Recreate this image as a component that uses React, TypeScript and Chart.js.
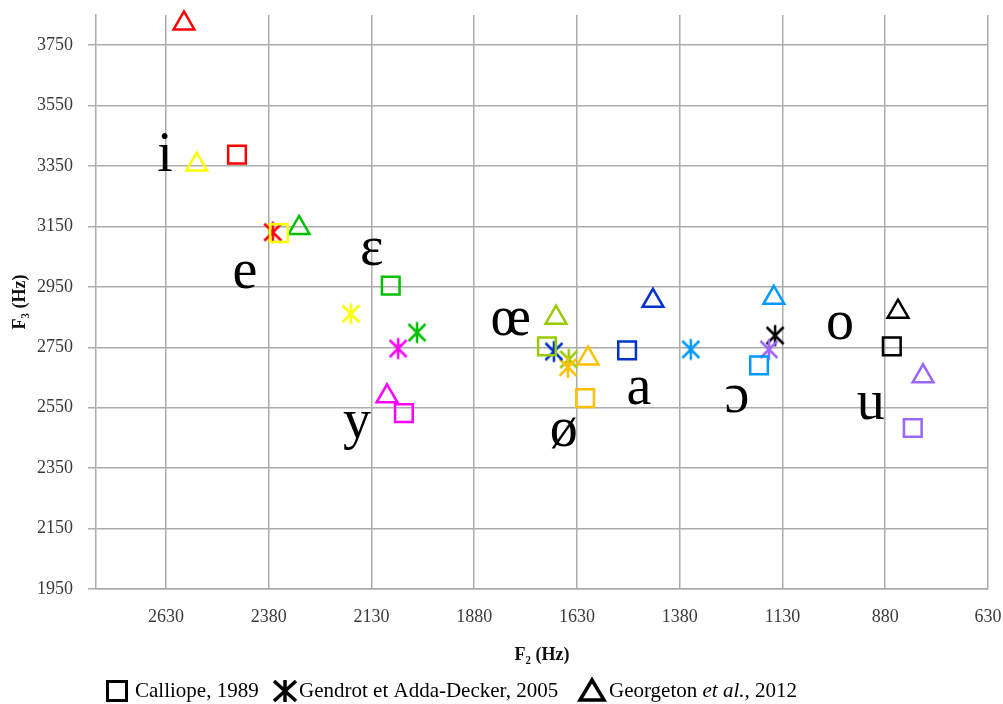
import React, { useEffect, useRef } from 'react';
import { Chart, registerables } from 'chart.js';

Chart.register(...registerables);

// ---- Data ----
const vowels = ['i', 'e', 'ɛ', 'y', 'œ', 'ø', 'a', 'ɔ', 'o', 'u'];
const vowelColors = ['#ff0000', '#ffff00', '#00c000', '#ff00ff', '#99cc00', '#ffc000', '#0033cc', '#0099ff', '#000000', '#9966ff'];

// Calliope, 1989 (squares)
const calliopeF2 = [2457, 2355, 2083, 2051, 1703, 1610, 1508, 1187, 864, 813];
const calliopeF3 = [3388, 3128, 2954, 2532, 2753, 2582, 2740, 2690, 2753, 2483];

// Gendrot et Adda-Decker, 2005 (asterisks)
const gendrotF2 = [2370, 2180, 2019, 2065, 1650, 1652, 1686, 1353, 1148, 1163];
const gendrotF3 = [3131, 2861, 2799, 2746, 2710, 2684, 2736, 2743, 2789, 2743];

// Georgeton et al., 2012 (triangles)
const georgetonF2 = [2586, 2555, 2306, 2092, 1681, 1603, 1445, 1151, 849, 788];
const georgetonF3 = [3822, 3355, 3145, 2588, 2848, 2713, 2904, 2914, 2868, 2654];

// Vowel symbol anchors (baseline centre)
const labelF2 = [2632, 2438, 2129, 2165, 1791, 1662, 1479, 1241, 990, 915];
const labelF3 = [3335, 2947, 3023, 2450, 2792, 2424, 2562, 2536, 2779, 2513];

const xTicks = [630, 880, 1130, 1380, 1630, 1880, 2130, 2380, 2630];
const yTicks = [1950, 2150, 2350, 2550, 2750, 2950, 3150, 3350, 3550, 3750];
const xMin = 630;
const xMax = 2800;
const yMin = 1950;
const yMax = 3850;

const xTitle = 'F₂ (Hz)';
const yTitle = 'F₃ (Hz)';

const legendStyles = ['square', 'asterisk', 'triangle'];
const legendParts = [
  [{ t: 'Calliope, 1989', it: false }],
  [{ t: 'Gendrot et Adda-Decker, 2005', it: false }],
  [{ t: 'Georgeton ', it: false }, { t: 'et al.,', it: true }, { t: ' 2012', it: false }],
];

const SERIF = '"Liberation Serif", "Times New Roman", serif';

function makeAsterisk(color: string, lw: number, hw: number, hh: number, vh: number) {
  const size = 30;
  const c = document.createElement('canvas');
  c.width = size;
  c.height = size;
  const g = c.getContext('2d')!;
  const m = size / 2;
  g.strokeStyle = color;
  g.lineWidth = lw;
  g.lineCap = 'butt';
  g.beginPath();
  g.moveTo(m, m - vh);
  g.lineTo(m, m + vh);
  g.moveTo(m - hw, m - hh);
  g.lineTo(m + hw, m + hh);
  g.moveTo(m - hw, m + hh);
  g.lineTo(m + hw, m - hh);
  g.stroke();
  return c;
}

const vowelLabelPlugin = {
  id: 'vowelLabels',
  afterDatasetsDraw(chart: any) {
    const meta = chart.getDatasetMeta(3);
    const ctx = chart.ctx;
    ctx.save();
    ctx.font = '56px ' + SERIF;
    ctx.fillStyle = '#000';
    ctx.textAlign = 'center';
    ctx.textBaseline = 'alphabetic';
    meta.data.forEach((el: any, i: number) => {
      ctx.fillText(vowels[i], el.x, el.y);
    });
    ctx.restore();
  },
};

const legendPlugin = {
  id: 'customLegend',
  afterDraw(chart: any) {
    const ctx = chart.ctx;
    const y = 691;
    const iconX = [117, 285, 592];
    const textX = [135, 299, 609];
    ctx.save();
    ctx.strokeStyle = '#000';
    ctx.fillStyle = '#000';
    legendStyles.forEach((s, i) => {
      const cx = iconX[i];
      ctx.beginPath();
      if (s === 'square') {
        ctx.lineWidth = 3;
        ctx.rect(cx - 9.5, y - 9.5, 19, 19);
      } else if (s === 'asterisk') {
        ctx.lineWidth = 3.5;
        ctx.moveTo(cx, y - 11);
        ctx.lineTo(cx, y + 11);
        ctx.moveTo(cx - 11, y - 10);
        ctx.lineTo(cx + 11, y + 10);
        ctx.moveTo(cx - 11, y + 10);
        ctx.lineTo(cx + 11, y - 10);
      } else {
        ctx.lineWidth = 3.5;
        ctx.lineJoin = 'miter';
        ctx.moveTo(cx, y - 11);
        ctx.lineTo(cx + 12, y + 9);
        ctx.lineTo(cx - 12, y + 9);
        ctx.closePath();
      }
      ctx.stroke();
      ctx.textBaseline = 'middle';
      ctx.textAlign = 'left';
      let x = textX[i];
      legendParts[i].forEach((p) => {
        ctx.font = (p.it ? 'italic ' : '') + '21px ' + SERIF;
        ctx.fillText(p.t, x, y);
        x += ctx.measureText(p.t).width;
      });
    });
    ctx.restore();
  },
};

export default function App() {
  const ref = useRef<HTMLCanvasElement | null>(null);

  useEffect(() => {
    if (!ref.current) return;
    const asterisks = vowelColors.map((c) => makeAsterisk(c, 2.5, 8.5, 8.5, 10.5));
    const pts = (xs: number[], ys: number[]) => xs.map((x, i) => ({ x, y: ys[i] }));
    const gridColor = '#ababab';
    const tickFont = { family: SERIF, size: 18 };
    const plain = (v: any) => String(v);

    const chart = new Chart(ref.current, {
      type: 'scatter',
      data: {
        datasets: [
          {
            label: 'Calliope, 1989',
            data: pts(calliopeF2, calliopeF3),
            pointStyle: 'rect',
            pointRadius: 12.5,
            pointBorderWidth: 2.5,
            pointBorderColor: vowelColors,
            pointBackgroundColor: 'rgba(0,0,0,0)',
            clip: false as any,
          },
          {
            label: 'Gendrot et Adda-Decker, 2005',
            data: pts(gendrotF2, gendrotF3),
            pointStyle: asterisks as any,
            pointRadius: 12,
            clip: false as any,
          },
          {
            label: 'Georgeton et al., 2012',
            data: pts(georgetonF2, georgetonF3),
            pointStyle: 'triangle',
            pointRadius: 12,
            pointBorderWidth: 2.5,
            pointBorderColor: vowelColors,
            pointBackgroundColor: 'rgba(0,0,0,0)',
            clip: false as any,
          },
          {
            label: 'vowels',
            data: pts(labelF2, labelF3),
            pointRadius: 0,
            clip: false as any,
          },
        ],
      },
      options: {
        animation: false,
        responsive: false,
        events: [],
        layout: { padding: { left: 0, top: 12, right: 15, bottom: 0 } },
        plugins: {
          legend: { display: false },
          tooltip: { enabled: false },
        },
        scales: {
          x: {
            type: 'linear',
            reverse: true,
            min: xMin,
            max: xMax,
            afterBuildTicks: (scale: any) => {
              scale.ticks = xTicks.map((v) => ({ value: v }));
            },
            afterFit: (scale: any) => {
              scale.height = 115;
              scale.paddingLeft = 0;
              scale.paddingRight = 0;
            },
            grid: { color: gridColor, lineWidth: 1.5, drawTicks: false },
            border: { display: true, color: gridColor, width: 1.5 },
            ticks: { color: '#3a3a3a', font: tickFont, padding: 17, maxRotation: 0, autoSkip: false, callback: plain },
            title: {
              display: true,
              text: xTitle,
              color: '#111',
              font: { family: SERIF, size: 18, weight: 'bold' },
              padding: { top: 0, bottom: 38 },
            },
          },
          y: {
            type: 'linear',
            min: yMin,
            max: yMax,
            afterBuildTicks: (scale: any) => {
              scale.ticks = yTicks.map((v) => ({ value: v }));
            },
            afterFit: (scale: any) => {
              scale.width = 96;
              scale.paddingTop = 0;
              scale.paddingBottom = 0;
            },
            grid: { color: gridColor, lineWidth: 1.5, drawTicks: true, tickLength: 8 },
            border: { display: true, color: gridColor, width: 1.5 },
            ticks: { color: '#3a3a3a', font: tickFont, padding: 15, autoSkip: false, callback: plain },
            title: {
              display: true,
              text: yTitle,
              color: '#111',
              font: { family: SERIF, size: 18, weight: 'bold' },
              padding: { top: 10, bottom: 0 },
            },
          },
        },
      },
      plugins: [vowelLabelPlugin, legendPlugin],
    } as any);

    return () => chart.destroy();
  }, []);

  return (
    <div style={{ position: 'absolute', left: 0, top: 0, width: 1003, height: 704, background: '#fff' }}>
      <canvas ref={ref} width={1003} height={704} style={{ width: 1003, height: 704, display: 'block' }} />
    </div>
  );
}
